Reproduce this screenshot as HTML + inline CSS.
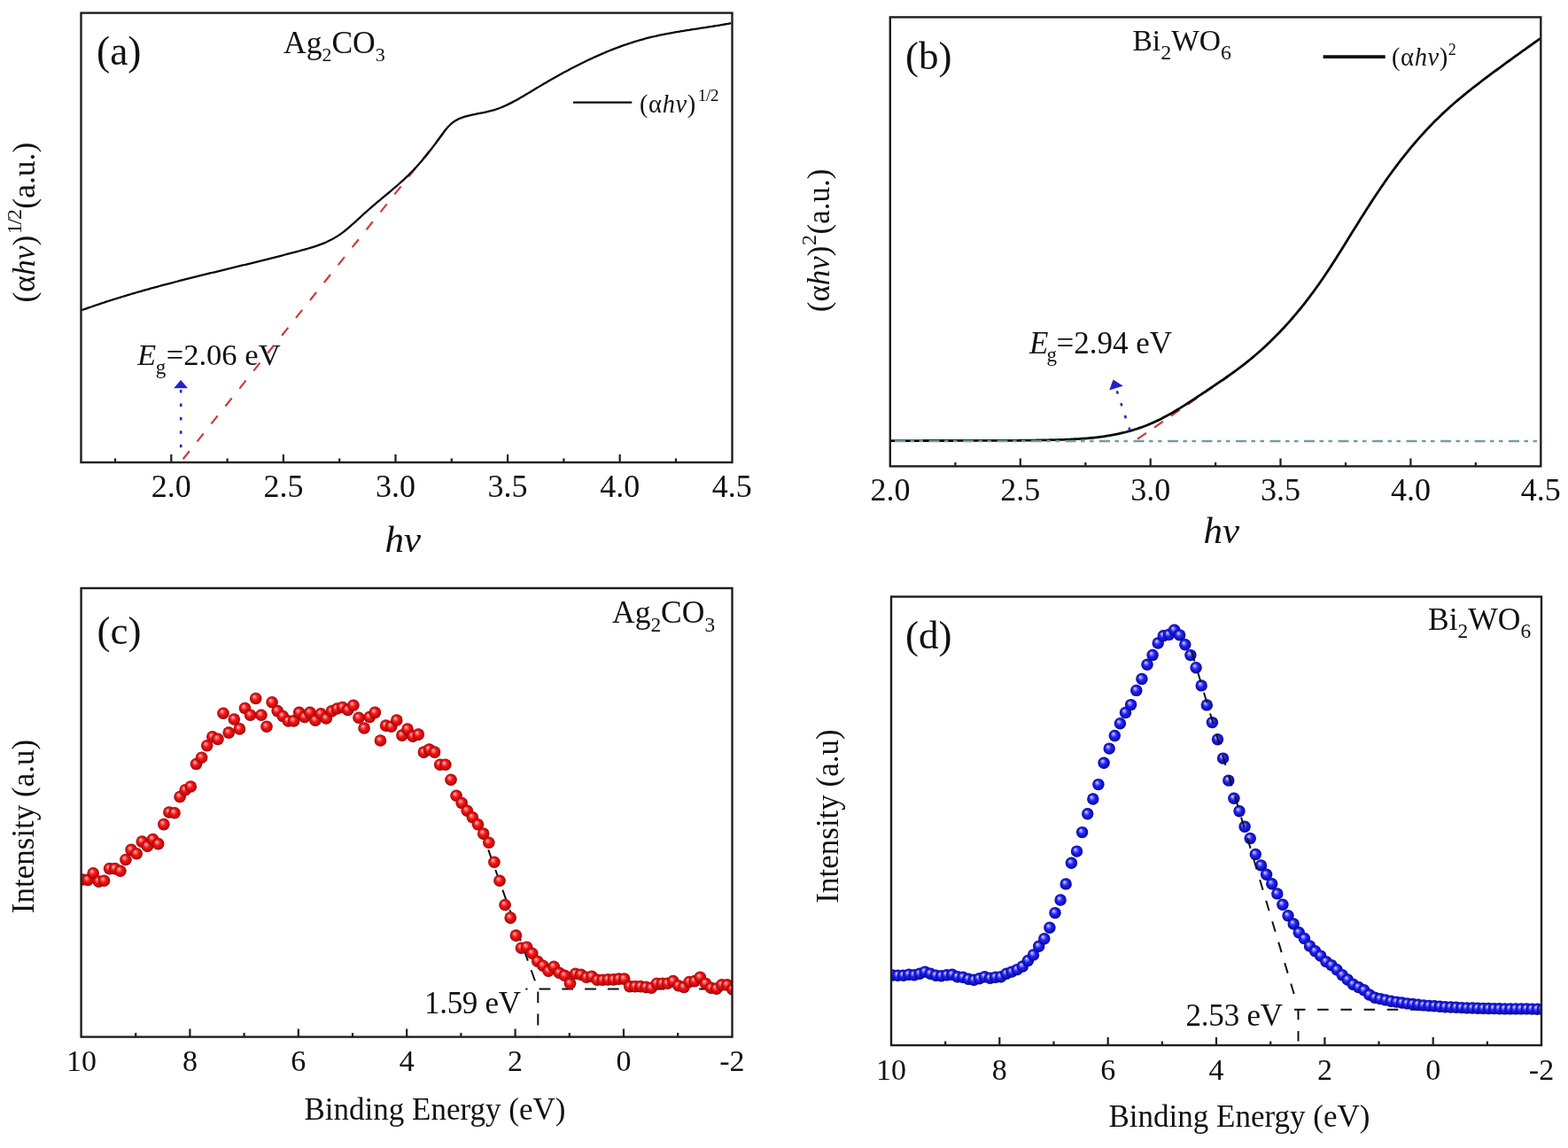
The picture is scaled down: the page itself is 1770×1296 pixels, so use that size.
<!DOCTYPE html>
<html><head><meta charset="utf-8"><title>Figure</title>
<style>html,body{margin:0;padding:0;background:#fff;} svg{display:block;}</style></head>
<body>
<svg width="1770" height="1296" viewBox="0 0 1770 1296">
<defs>
<radialGradient id="gr" cx="0.5" cy="0.5" r="0.5" fx="0.36" fy="0.32">
<stop offset="0" stop-color="#ffd4d4"/>
<stop offset="0.2" stop-color="#ff7474"/>
<stop offset="0.5" stop-color="#ee1414"/>
<stop offset="0.78" stop-color="#d20a0a"/>
<stop offset="0.92" stop-color="#a80810"/>
<stop offset="1" stop-color="#780008"/>
</radialGradient>
<radialGradient id="gb" cx="0.5" cy="0.5" r="0.5" fx="0.36" fy="0.32">
<stop offset="0" stop-color="#e6e6ff"/>
<stop offset="0.2" stop-color="#8a8aff"/>
<stop offset="0.5" stop-color="#2222ee"/>
<stop offset="0.78" stop-color="#1212d0"/>
<stop offset="0.92" stop-color="#0a0aa0"/>
<stop offset="1" stop-color="#000070"/>
</radialGradient>
<clipPath id="cc"><rect x="92" y="664" width="734.5" height="506.5"/></clipPath>
<clipPath id="cd"><rect x="1006" y="673.6" width="734" height="506.4"/></clipPath>
</defs>
<rect x="0" y="0" width="1770" height="1296" fill="#ffffff"/>
<line x1="204.5" y1="521" x2="502" y2="148.6" stroke="#cc3a3a" stroke-width="2.2" stroke-dasharray="11.5 14" stroke-dashoffset="-3.5"/>
<path d="M92.0,350.26 L94.0,349.54 L96.0,348.83 L98.0,348.12 L100.0,347.42 L102.0,346.72 L104.0,346.02 L106.0,345.34 L108.0,344.66 L110.0,343.98 L112.0,343.31 L114.0,342.64 L116.0,341.98 L118.0,341.32 L120.0,340.67 L122.0,340.02 L124.0,339.38 L126.0,338.74 L128.0,338.11 L130.0,337.48 L132.0,336.85 L134.0,336.23 L136.0,335.62 L138.0,335.00 L140.0,334.40 L142.0,333.79 L144.0,333.19 L146.0,332.60 L148.0,332.00 L150.0,331.42 L152.0,330.83 L154.0,330.25 L156.0,329.67 L158.0,329.10 L160.0,328.53 L162.0,327.96 L164.0,327.40 L166.0,326.84 L168.0,326.28 L170.0,325.73 L172.0,325.17 L174.0,324.63 L176.0,324.08 L178.0,323.54 L180.0,323.00 L182.0,322.46 L184.0,321.93 L186.0,321.40 L188.0,320.87 L190.0,320.34 L192.0,319.81 L194.0,319.29 L196.0,318.77 L198.0,318.25 L200.0,317.74 L202.0,317.22 L204.0,316.71 L206.0,316.20 L208.0,315.69 L210.0,315.19 L212.0,314.68 L214.0,314.18 L216.0,313.68 L218.0,313.18 L220.0,312.68 L222.0,312.18 L224.0,311.69 L226.0,311.19 L228.0,310.70 L230.0,310.20 L232.0,309.71 L234.0,309.22 L236.0,308.73 L238.0,308.24 L240.0,307.75 L242.0,307.26 L244.0,306.78 L246.0,306.29 L248.0,305.80 L250.0,305.32 L252.0,304.83 L254.0,304.35 L256.0,303.86 L258.0,303.38 L260.0,302.89 L262.0,302.40 L264.0,301.92 L266.0,301.43 L268.0,300.95 L270.0,300.46 L272.0,299.98 L274.0,299.49 L276.0,299.00 L278.0,298.51 L280.0,298.02 L282.0,297.54 L284.0,297.04 L286.0,296.55 L288.0,296.06 L290.0,295.57 L292.0,295.07 L294.0,294.58 L296.0,294.08 L298.0,293.59 L300.0,293.09 L302.0,292.59 L304.0,292.08 L306.0,291.58 L308.0,291.08 L310.0,290.57 L312.0,290.06 L314.0,289.55 L316.0,289.04 L318.0,288.53 L320.0,288.01 L322.0,287.49 L324.0,286.97 L326.0,286.45 L328.0,285.92 L330.0,285.40 L332.0,284.87 L334.0,284.34 L336.0,283.80 L338.0,283.26 L340.0,282.72 L342.0,282.18 L344.0,281.63 L346.0,281.08 L348.0,280.51 L350.0,279.93 L352.0,279.33 L354.0,278.71 L356.0,278.07 L358.0,277.39 L360.0,276.69 L362.0,275.94 L364.0,275.16 L366.0,274.34 L368.0,273.48 L370.0,272.56 L372.0,271.59 L374.0,270.57 L376.0,269.49 L378.0,268.34 L380.0,267.13 L382.0,265.85 L384.0,264.50 L386.0,263.07 L388.0,261.57 L390.0,260.00 L392.0,258.36 L394.0,256.67 L396.0,254.94 L398.0,253.16 L400.0,251.36 L402.0,249.53 L404.0,247.69 L406.0,245.84 L408.0,244.00 L410.0,242.16 L412.0,240.33 L414.0,238.53 L416.0,236.76 L418.0,235.01 L420.0,233.29 L422.0,231.58 L424.0,229.89 L426.0,228.21 L428.0,226.55 L430.0,224.89 L432.0,223.23 L434.0,221.57 L436.0,219.91 L438.0,218.25 L440.0,216.58 L442.0,214.90 L444.0,213.20 L446.0,211.48 L448.0,209.75 L450.0,207.99 L452.0,206.21 L454.0,204.39 L456.0,202.55 L458.0,200.67 L460.0,198.75 L462.0,196.79 L464.0,194.78 L466.0,192.73 L468.0,190.62 L470.0,188.47 L472.0,186.26 L474.0,184.00 L476.0,181.68 L478.0,179.32 L480.0,176.91 L482.0,174.45 L484.0,171.94 L486.0,169.39 L488.0,166.80 L490.0,164.16 L492.0,161.49 L494.0,158.77 L496.0,156.02 L498.0,153.24 L500.0,150.47 L502.0,147.78 L504.0,145.27 L506.0,142.99 L508.0,140.97 L510.0,139.20 L512.0,137.66 L514.0,136.32 L516.0,135.16 L518.0,134.16 L520.0,133.31 L522.0,132.56 L524.0,131.92 L526.0,131.35 L528.0,130.83 L530.0,130.35 L532.0,129.90 L534.0,129.46 L536.0,129.04 L538.0,128.64 L540.0,128.24 L542.0,127.83 L544.0,127.43 L546.0,127.01 L548.0,126.58 L550.0,126.13 L552.0,125.66 L554.0,125.15 L556.0,124.61 L558.0,124.03 L560.0,123.40 L562.0,122.72 L564.0,121.99 L566.0,121.21 L568.0,120.38 L570.0,119.51 L572.0,118.60 L574.0,117.64 L576.0,116.65 L578.0,115.63 L580.0,114.58 L582.0,113.49 L584.0,112.39 L586.0,111.26 L588.0,110.11 L590.0,108.94 L592.0,107.76 L594.0,106.57 L596.0,105.36 L598.0,104.16 L600.0,102.94 L602.0,101.73 L604.0,100.52 L606.0,99.32 L608.0,98.12 L610.0,96.93 L612.0,95.74 L614.0,94.56 L616.0,93.39 L618.0,92.23 L620.0,91.07 L622.0,89.92 L624.0,88.78 L626.0,87.65 L628.0,86.53 L630.0,85.41 L632.0,84.30 L634.0,83.20 L636.0,82.11 L638.0,81.03 L640.0,79.96 L642.0,78.89 L644.0,77.84 L646.0,76.79 L648.0,75.75 L650.0,74.73 L652.0,73.71 L654.0,72.71 L656.0,71.71 L658.0,70.72 L660.0,69.75 L662.0,68.78 L664.0,67.83 L666.0,66.88 L668.0,65.95 L670.0,65.03 L672.0,64.11 L674.0,63.21 L676.0,62.33 L678.0,61.45 L680.0,60.59 L682.0,59.73 L684.0,58.89 L686.0,58.06 L688.0,57.25 L690.0,56.44 L692.0,55.65 L694.0,54.87 L696.0,54.11 L698.0,53.36 L700.0,52.62 L702.0,51.89 L704.0,51.18 L706.0,50.48 L708.0,49.79 L710.0,49.12 L712.0,48.47 L714.0,47.82 L716.0,47.20 L718.0,46.58 L720.0,45.98 L722.0,45.40 L724.0,44.83 L726.0,44.27 L728.0,43.73 L730.0,43.21 L732.0,42.70 L734.0,42.20 L736.0,41.72 L738.0,41.25 L740.0,40.79 L742.0,40.35 L744.0,39.91 L746.0,39.49 L748.0,39.08 L750.0,38.67 L752.0,38.28 L754.0,37.90 L756.0,37.52 L758.0,37.15 L760.0,36.79 L762.0,36.44 L764.0,36.09 L766.0,35.76 L768.0,35.42 L770.0,35.09 L772.0,34.77 L774.0,34.45 L776.0,34.13 L778.0,33.82 L780.0,33.51 L782.0,33.20 L784.0,32.90 L786.0,32.59 L788.0,32.29 L790.0,31.98 L792.0,31.68 L794.0,31.38 L796.0,31.07 L798.0,30.76 L800.0,30.45 L802.0,30.14 L804.0,29.83 L806.0,29.51 L808.0,29.19 L810.0,28.86 L812.0,28.53 L814.0,28.19 L816.0,27.85 L818.0,27.50 L820.0,27.15 L822.0,26.78 L824.0,26.41 L825.5,26.13" fill="none" stroke="#0a0a0a" stroke-width="2.3"/>
<line x1="204.2" y1="505.2" x2="204.2" y2="439" stroke="#2a2ab4" stroke-width="2.6" stroke-dasharray="3.5 11.9"/>
<polygon points="196.2,438.3 212,438.3 204.1,429" fill="#2222cc"/>
<rect x="91.5" y="14.6" width="735.0" height="507.4" fill="none" stroke="#1e1e1e" stroke-width="2.4"/>
<path d="M193.3,522 V513 M319.9,522 V513 M446.5,522 V513 M573.1,522 V513 M699.7,522 V513 M130.0,522 V517.5 M256.6,522 V517.5 M383.2,522 V517.5 M509.8,522 V517.5 M636.4,522 V517.5 M763.0,522 V517.5 " stroke="#1e1e1e" stroke-width="2.2" fill="none"/>
<text x="193.3" y="561" font-size="36" text-anchor="middle" font-family="'Liberation Serif', 'Times New Roman', serif" fill="#111" >2.0</text>
<text x="319.9" y="561" font-size="36" text-anchor="middle" font-family="'Liberation Serif', 'Times New Roman', serif" fill="#111" >2.5</text>
<text x="446.5" y="561" font-size="36" text-anchor="middle" font-family="'Liberation Serif', 'Times New Roman', serif" fill="#111" >3.0</text>
<text x="573.1" y="561" font-size="36" text-anchor="middle" font-family="'Liberation Serif', 'Times New Roman', serif" fill="#111" >3.5</text>
<text x="699.7" y="561" font-size="36" text-anchor="middle" font-family="'Liberation Serif', 'Times New Roman', serif" fill="#111" >4.0</text>
<text x="826.3" y="561" font-size="36" text-anchor="middle" font-family="'Liberation Serif', 'Times New Roman', serif" fill="#111" >4.5</text>
<text x="434.5" y="623" font-size="43" text-anchor="start" font-family="'Liberation Serif', 'Times New Roman', serif" fill="#111" ><tspan font-style="italic">hν</tspan></text>
<text x="109" y="72.6" font-size="45.5" text-anchor="start" font-family="'Liberation Serif', 'Times New Roman', serif" fill="#111" >(a)</text>
<text x="320" y="59.8" font-size="35.5" text-anchor="start" font-family="'Liberation Serif', 'Times New Roman', serif" fill="#111" >Ag<tspan font-size="22" dy="9.5">2</tspan><tspan dy="-9.5">CO</tspan><tspan font-size="22" dy="9.5">3</tspan></text>
<line x1="647" y1="115.7" x2="713.3" y2="115.7" stroke="#0a0a0a" stroke-width="2.3"/>
<text x="722" y="127.2" font-size="28.5" text-anchor="start" font-family="'Liberation Serif', 'Times New Roman', serif" fill="#111" letter-spacing="0.6">(α<tspan font-style="italic">hν</tspan>)<tspan font-size="19.5" dx="2" dy="-13.5" letter-spacing="-0.6">1/2</tspan></text>
<text x="155" y="412" font-size="34.6" text-anchor="start" font-family="'Liberation Serif', 'Times New Roman', serif" fill="#111" ><tspan font-style="italic">E</tspan><tspan font-size="23" dy="10.2" dx="-0.5">g</tspan><tspan dy="-10.2" dx="0.5">=2.06 eV</tspan></text>
<text transform="translate(39.1,341.5) rotate(-90)" font-size="35.5" text-anchor="start" font-family="'Liberation Serif', 'Times New Roman', serif" fill="#111">(α<tspan font-style="italic">hν</tspan>)<tspan font-size="24" dy="-15.3" dx="1.5" letter-spacing="-1.2">1/2</tspan><tspan dy="15.3" dx="1.5">(a.u.)</tspan></text>
<line x1="1284" y1="495.6" x2="1386" y2="425.4" stroke="#cc3a3a" stroke-width="2.2" stroke-dasharray="12 11"/>
<path d="M1005.0,497.62 L1007.0,497.62 L1009.0,497.61 L1011.0,497.60 L1013.0,497.59 L1015.0,497.59 L1017.0,497.58 L1019.0,497.58 L1021.0,497.57 L1023.0,497.56 L1025.0,497.56 L1027.0,497.55 L1029.0,497.55 L1031.0,497.54 L1033.0,497.54 L1035.0,497.54 L1037.0,497.53 L1039.0,497.53 L1041.0,497.53 L1043.0,497.52 L1045.0,497.52 L1047.0,497.52 L1049.0,497.51 L1051.0,497.51 L1053.0,497.51 L1055.0,497.50 L1057.0,497.50 L1059.0,497.50 L1061.0,497.50 L1063.0,497.49 L1065.0,497.49 L1067.0,497.49 L1069.0,497.49 L1071.0,497.49 L1073.0,497.48 L1075.0,497.48 L1077.0,497.48 L1079.0,497.48 L1081.0,497.47 L1083.0,497.47 L1085.0,497.47 L1087.0,497.47 L1089.0,497.47 L1091.0,497.46 L1093.0,497.46 L1095.0,497.46 L1097.0,497.45 L1099.0,497.45 L1101.0,497.45 L1103.0,497.45 L1105.0,497.44 L1107.0,497.44 L1109.0,497.43 L1111.0,497.43 L1113.0,497.43 L1115.0,497.42 L1117.0,497.42 L1119.0,497.41 L1121.0,497.41 L1123.0,497.40 L1125.0,497.40 L1127.0,497.39 L1129.0,497.38 L1131.0,497.38 L1133.0,497.37 L1135.0,497.36 L1137.0,497.35 L1139.0,497.34 L1141.0,497.33 L1143.0,497.32 L1145.0,497.31 L1147.0,497.29 L1149.0,497.28 L1151.0,497.26 L1153.0,497.24 L1155.0,497.22 L1157.0,497.20 L1159.0,497.18 L1161.0,497.16 L1163.0,497.13 L1165.0,497.11 L1167.0,497.08 L1169.0,497.05 L1171.0,497.02 L1173.0,496.99 L1175.0,496.95 L1177.0,496.91 L1179.0,496.87 L1181.0,496.83 L1183.0,496.79 L1185.0,496.74 L1187.0,496.69 L1189.0,496.64 L1191.0,496.59 L1193.0,496.53 L1195.0,496.47 L1197.0,496.41 L1199.0,496.35 L1201.0,496.28 L1203.0,496.20 L1205.0,496.13 L1207.0,496.04 L1209.0,495.95 L1211.0,495.86 L1213.0,495.76 L1215.0,495.65 L1217.0,495.53 L1219.0,495.40 L1221.0,495.27 L1223.0,495.13 L1225.0,494.98 L1227.0,494.81 L1229.0,494.64 L1231.0,494.46 L1233.0,494.26 L1235.0,494.06 L1237.0,493.84 L1239.0,493.60 L1241.0,493.36 L1243.0,493.10 L1245.0,492.82 L1247.0,492.54 L1249.0,492.23 L1251.0,491.91 L1253.0,491.58 L1255.0,491.22 L1257.0,490.85 L1259.0,490.47 L1261.0,490.06 L1263.0,489.64 L1265.0,489.19 L1267.0,488.73 L1269.0,488.25 L1271.0,487.74 L1273.0,487.22 L1275.0,486.67 L1277.0,486.10 L1279.0,485.51 L1281.0,484.90 L1283.0,484.26 L1285.0,483.60 L1287.0,482.92 L1289.0,482.21 L1291.0,481.48 L1293.0,480.71 L1295.0,479.93 L1297.0,479.11 L1299.0,478.27 L1301.0,477.41 L1303.0,476.51 L1305.0,475.58 L1307.0,474.63 L1309.0,473.65 L1311.0,472.64 L1313.0,471.61 L1315.0,470.55 L1317.0,469.47 L1319.0,468.37 L1321.0,467.24 L1323.0,466.10 L1325.0,464.93 L1327.0,463.75 L1329.0,462.55 L1331.0,461.33 L1333.0,460.10 L1335.0,458.86 L1337.0,457.60 L1339.0,456.32 L1341.0,455.04 L1343.0,453.75 L1345.0,452.44 L1347.0,451.13 L1349.0,449.81 L1351.0,448.49 L1353.0,447.16 L1355.0,445.82 L1357.0,444.48 L1359.0,443.14 L1361.0,441.80 L1363.0,440.46 L1365.0,439.12 L1367.0,437.77 L1369.0,436.43 L1371.0,435.09 L1373.0,433.74 L1375.0,432.38 L1377.0,431.02 L1379.0,429.65 L1381.0,428.28 L1383.0,426.90 L1385.0,425.50 L1387.0,424.10 L1389.0,422.68 L1391.0,421.25 L1393.0,419.80 L1395.0,418.34 L1397.0,416.87 L1399.0,415.37 L1401.0,413.86 L1403.0,412.32 L1405.0,410.77 L1407.0,409.19 L1409.0,407.59 L1411.0,405.97 L1413.0,404.32 L1415.0,402.65 L1417.0,400.96 L1419.0,399.24 L1421.0,397.49 L1423.0,395.72 L1425.0,393.92 L1427.0,392.10 L1429.0,390.25 L1431.0,388.37 L1433.0,386.46 L1435.0,384.53 L1437.0,382.57 L1439.0,380.58 L1441.0,378.56 L1443.0,376.51 L1445.0,374.43 L1447.0,372.33 L1449.0,370.19 L1451.0,368.02 L1453.0,365.82 L1455.0,363.58 L1457.0,361.32 L1459.0,359.02 L1461.0,356.69 L1463.0,354.33 L1465.0,351.93 L1467.0,349.50 L1469.0,347.04 L1471.0,344.54 L1473.0,342.01 L1475.0,339.44 L1477.0,336.83 L1479.0,334.19 L1481.0,331.52 L1483.0,328.80 L1485.0,326.05 L1487.0,323.26 L1489.0,320.44 L1491.0,317.57 L1493.0,314.67 L1495.0,311.73 L1497.0,308.75 L1499.0,305.73 L1501.0,302.69 L1503.0,299.62 L1505.0,296.51 L1507.0,293.39 L1509.0,290.24 L1511.0,287.08 L1513.0,283.89 L1515.0,280.70 L1517.0,277.49 L1519.0,274.27 L1521.0,271.05 L1523.0,267.82 L1525.0,264.59 L1527.0,261.36 L1529.0,258.13 L1531.0,254.91 L1533.0,251.70 L1535.0,248.50 L1537.0,245.31 L1539.0,242.14 L1541.0,238.98 L1543.0,235.84 L1545.0,232.72 L1547.0,229.62 L1549.0,226.54 L1551.0,223.49 L1553.0,220.46 L1555.0,217.46 L1557.0,214.48 L1559.0,211.53 L1561.0,208.61 L1563.0,205.72 L1565.0,202.86 L1567.0,200.04 L1569.0,197.25 L1571.0,194.49 L1573.0,191.76 L1575.0,189.07 L1577.0,186.40 L1579.0,183.77 L1581.0,181.17 L1583.0,178.60 L1585.0,176.07 L1587.0,173.56 L1589.0,171.09 L1591.0,168.64 L1593.0,166.23 L1595.0,163.85 L1597.0,161.49 L1599.0,159.17 L1601.0,156.88 L1603.0,154.62 L1605.0,152.39 L1607.0,150.19 L1609.0,148.02 L1611.0,145.87 L1613.0,143.76 L1615.0,141.68 L1617.0,139.63 L1619.0,137.60 L1621.0,135.61 L1623.0,133.64 L1625.0,131.70 L1627.0,129.78 L1629.0,127.89 L1631.0,126.03 L1633.0,124.19 L1635.0,122.37 L1637.0,120.57 L1639.0,118.80 L1641.0,117.05 L1643.0,115.31 L1645.0,113.60 L1647.0,111.91 L1649.0,110.23 L1651.0,108.57 L1653.0,106.92 L1655.0,105.30 L1657.0,103.68 L1659.0,102.08 L1661.0,100.50 L1663.0,98.92 L1665.0,97.36 L1667.0,95.81 L1669.0,94.27 L1671.0,92.74 L1673.0,91.21 L1675.0,89.70 L1677.0,88.19 L1679.0,86.69 L1681.0,85.19 L1683.0,83.70 L1685.0,82.22 L1687.0,80.73 L1689.0,79.25 L1691.0,77.78 L1693.0,76.30 L1695.0,74.84 L1697.0,73.37 L1699.0,71.91 L1701.0,70.45 L1703.0,69.00 L1705.0,67.54 L1707.0,66.09 L1709.0,64.65 L1711.0,63.21 L1713.0,61.77 L1715.0,60.33 L1717.0,58.89 L1719.0,57.46 L1721.0,56.03 L1723.0,54.61 L1725.0,53.18 L1727.0,51.76 L1729.0,50.34 L1731.0,48.93 L1733.0,47.51 L1735.0,46.10 L1737.0,44.69 L1738.5,43.64" fill="none" stroke="#0a0a0a" stroke-width="2.8"/>
<line x1="1006" y1="498" x2="1738" y2="498" stroke="#6f9ea3" stroke-width="2.4" stroke-dasharray="12 5.5 4.5 5.5 4.5 6.5" stroke-dashoffset="-4"/>
<line x1="1275.5" y1="486" x2="1260" y2="439" stroke="#2a2ab4" stroke-width="2.6" stroke-dasharray="3.5 11"/>
<polygon points="1252.2,440.4 1267.8,435.8 1256.6,428.6" fill="#2222cc"/>
<rect x="1004.8" y="19.4" width="734.5" height="507.0" fill="none" stroke="#1e1e1e" stroke-width="2.4"/>
<path d="M1151.8,526.4 V517.4 M1298.7,526.4 V517.4 M1445.5,526.4 V517.4 M1592.4,526.4 V517.4 M1078.4,526.4 V521.9 M1225.3,526.4 V521.9 M1372.1,526.4 V521.9 M1519.0,526.4 V521.9 M1665.8,526.4 V521.9 " stroke="#1e1e1e" stroke-width="2.2" fill="none"/>
<text x="1005.0" y="565" font-size="36" text-anchor="middle" font-family="'Liberation Serif', 'Times New Roman', serif" fill="#111" >2.0</text>
<text x="1151.8" y="565" font-size="36" text-anchor="middle" font-family="'Liberation Serif', 'Times New Roman', serif" fill="#111" >2.5</text>
<text x="1298.7" y="565" font-size="36" text-anchor="middle" font-family="'Liberation Serif', 'Times New Roman', serif" fill="#111" >3.0</text>
<text x="1445.5" y="565" font-size="36" text-anchor="middle" font-family="'Liberation Serif', 'Times New Roman', serif" fill="#111" >3.5</text>
<text x="1592.4" y="565" font-size="36" text-anchor="middle" font-family="'Liberation Serif', 'Times New Roman', serif" fill="#111" >4.0</text>
<text x="1739.2" y="565" font-size="36" text-anchor="middle" font-family="'Liberation Serif', 'Times New Roman', serif" fill="#111" >4.5</text>
<text x="1358.5" y="612.5" font-size="43" text-anchor="start" font-family="'Liberation Serif', 'Times New Roman', serif" fill="#111" ><tspan font-style="italic">hν</tspan></text>
<text x="1022" y="78.3" font-size="45" text-anchor="start" font-family="'Liberation Serif', 'Times New Roman', serif" fill="#111" >(b)</text>
<text x="1278.5" y="56.6" font-size="33.5" text-anchor="start" font-family="'Liberation Serif', 'Times New Roman', serif" fill="#111" >Bi<tspan font-size="24" dy="10">2</tspan><tspan dy="-10">WO</tspan><tspan font-size="24" dy="10">6</tspan></text>
<line x1="1493.6" y1="64.1" x2="1563.7" y2="64.1" stroke="#0a0a0a" stroke-width="3.6"/>
<text x="1571" y="74.2" font-size="28.5" text-anchor="start" font-family="'Liberation Serif', 'Times New Roman', serif" fill="#111" letter-spacing="0.6">(α<tspan font-style="italic">hν</tspan>)<tspan font-size="18" dy="-12.5">2</tspan></text>
<text x="1162" y="398.9" font-size="35" text-anchor="start" font-family="'Liberation Serif', 'Times New Roman', serif" fill="#111" ><tspan font-style="italic">E</tspan><tspan font-size="23" dy="9.5" dx="-2">g</tspan><tspan dy="-9.5" dx="-0.5">=2.94 eV</tspan></text>
<text transform="translate(936.3,352.2) rotate(-90)" font-size="35" text-anchor="start" font-family="'Liberation Serif', 'Times New Roman', serif" fill="#111">(α<tspan font-style="italic">hν</tspan>)<tspan font-size="24" dy="-15" dx="0.5">2</tspan><tspan dy="15" dx="0.5">(a.u.)</tspan></text>
<path d="M539,925 L604,1107.5" stroke="#111" stroke-width="2" fill="none" stroke-dasharray="13 11" stroke-dashoffset="-12.5"/>
<path d="M593.3,1116.4 H826" stroke="#111" stroke-width="2" fill="none" stroke-dasharray="12.8 13" stroke-dashoffset="10.6"/>
<path d="M607.3,1116.4 V1170" stroke="#111" stroke-width="2" fill="none" stroke-dasharray="12.8 12.4" stroke-dashoffset="-3"/>
<g clip-path="url(#cc)">
<circle cx="93.0" cy="993.0" r="6.8" fill="url(#gr)"/>
<circle cx="99.1" cy="993.4" r="6.8" fill="url(#gr)"/>
<circle cx="105.2" cy="985.7" r="6.8" fill="url(#gr)"/>
<circle cx="111.4" cy="995.1" r="6.8" fill="url(#gr)"/>
<circle cx="117.5" cy="994.2" r="6.8" fill="url(#gr)"/>
<circle cx="123.6" cy="980.6" r="6.8" fill="url(#gr)"/>
<circle cx="129.7" cy="980.6" r="6.8" fill="url(#gr)"/>
<circle cx="135.8" cy="983.2" r="6.8" fill="url(#gr)"/>
<circle cx="141.9" cy="970.5" r="6.8" fill="url(#gr)"/>
<circle cx="148.1" cy="959.4" r="6.8" fill="url(#gr)"/>
<circle cx="154.2" cy="963.7" r="6.8" fill="url(#gr)"/>
<circle cx="160.3" cy="950.1" r="6.8" fill="url(#gr)"/>
<circle cx="166.4" cy="955.2" r="6.8" fill="url(#gr)"/>
<circle cx="172.5" cy="947.5" r="6.8" fill="url(#gr)"/>
<circle cx="178.6" cy="952.6" r="6.8" fill="url(#gr)"/>
<circle cx="184.8" cy="930.6" r="6.8" fill="url(#gr)"/>
<circle cx="190.9" cy="917.0" r="6.8" fill="url(#gr)"/>
<circle cx="197.0" cy="917.8" r="6.8" fill="url(#gr)"/>
<circle cx="203.1" cy="899.5" r="6.8" fill="url(#gr)"/>
<circle cx="209.2" cy="891.7" r="6.8" fill="url(#gr)"/>
<circle cx="215.3" cy="888.0" r="6.8" fill="url(#gr)"/>
<circle cx="221.5" cy="862.5" r="6.8" fill="url(#gr)"/>
<circle cx="227.6" cy="855.2" r="6.8" fill="url(#gr)"/>
<circle cx="233.7" cy="841.7" r="6.8" fill="url(#gr)"/>
<circle cx="239.8" cy="831.8" r="6.8" fill="url(#gr)"/>
<circle cx="245.9" cy="834.4" r="6.8" fill="url(#gr)"/>
<circle cx="252.0" cy="805.2" r="6.8" fill="url(#gr)"/>
<circle cx="258.2" cy="827.1" r="6.8" fill="url(#gr)"/>
<circle cx="264.3" cy="812.0" r="6.8" fill="url(#gr)"/>
<circle cx="270.4" cy="822.9" r="6.8" fill="url(#gr)"/>
<circle cx="276.5" cy="799.5" r="6.8" fill="url(#gr)"/>
<circle cx="282.6" cy="807.3" r="6.8" fill="url(#gr)"/>
<circle cx="288.7" cy="788.5" r="6.8" fill="url(#gr)"/>
<circle cx="294.9" cy="807.3" r="6.8" fill="url(#gr)"/>
<circle cx="301.0" cy="820.3" r="6.8" fill="url(#gr)"/>
<circle cx="307.1" cy="792.7" r="6.8" fill="url(#gr)"/>
<circle cx="313.2" cy="802.6" r="6.8" fill="url(#gr)"/>
<circle cx="319.3" cy="808.5" r="6.8" fill="url(#gr)"/>
<circle cx="325.4" cy="814.0" r="6.8" fill="url(#gr)"/>
<circle cx="331.6" cy="813.9" r="6.8" fill="url(#gr)"/>
<circle cx="337.7" cy="804.4" r="6.8" fill="url(#gr)"/>
<circle cx="343.8" cy="809.5" r="6.8" fill="url(#gr)"/>
<circle cx="349.9" cy="804.4" r="6.8" fill="url(#gr)"/>
<circle cx="356.0" cy="813.2" r="6.8" fill="url(#gr)"/>
<circle cx="362.1" cy="805.8" r="6.8" fill="url(#gr)"/>
<circle cx="368.3" cy="811.0" r="6.8" fill="url(#gr)"/>
<circle cx="374.4" cy="802.9" r="6.8" fill="url(#gr)"/>
<circle cx="380.5" cy="800.0" r="6.8" fill="url(#gr)"/>
<circle cx="386.6" cy="798.5" r="6.8" fill="url(#gr)"/>
<circle cx="392.7" cy="801.4" r="6.8" fill="url(#gr)"/>
<circle cx="398.9" cy="796.3" r="6.8" fill="url(#gr)"/>
<circle cx="405.0" cy="810.3" r="6.8" fill="url(#gr)"/>
<circle cx="411.1" cy="822.0" r="6.8" fill="url(#gr)"/>
<circle cx="417.2" cy="809.5" r="6.8" fill="url(#gr)"/>
<circle cx="423.3" cy="804.4" r="6.8" fill="url(#gr)"/>
<circle cx="429.4" cy="836.0" r="6.8" fill="url(#gr)"/>
<circle cx="435.6" cy="819.1" r="6.8" fill="url(#gr)"/>
<circle cx="441.7" cy="820.3" r="6.8" fill="url(#gr)"/>
<circle cx="447.8" cy="813.0" r="6.8" fill="url(#gr)"/>
<circle cx="453.9" cy="830.1" r="6.8" fill="url(#gr)"/>
<circle cx="460.0" cy="823.1" r="6.8" fill="url(#gr)"/>
<circle cx="466.1" cy="831.1" r="6.8" fill="url(#gr)"/>
<circle cx="472.3" cy="829.1" r="6.8" fill="url(#gr)"/>
<circle cx="478.4" cy="849.1" r="6.8" fill="url(#gr)"/>
<circle cx="484.5" cy="846.1" r="6.8" fill="url(#gr)"/>
<circle cx="490.6" cy="849.1" r="6.8" fill="url(#gr)"/>
<circle cx="496.7" cy="863.2" r="6.8" fill="url(#gr)"/>
<circle cx="502.8" cy="863.2" r="6.8" fill="url(#gr)"/>
<circle cx="509.0" cy="880.2" r="6.8" fill="url(#gr)"/>
<circle cx="515.1" cy="898.3" r="6.8" fill="url(#gr)"/>
<circle cx="521.2" cy="906.5" r="6.8" fill="url(#gr)"/>
<circle cx="527.3" cy="915.2" r="6.8" fill="url(#gr)"/>
<circle cx="533.4" cy="922.8" r="6.8" fill="url(#gr)"/>
<circle cx="539.5" cy="930.8" r="6.8" fill="url(#gr)"/>
<circle cx="545.7" cy="941.1" r="6.8" fill="url(#gr)"/>
<circle cx="551.8" cy="951.2" r="6.8" fill="url(#gr)"/>
<circle cx="557.9" cy="973.2" r="6.8" fill="url(#gr)"/>
<circle cx="564.0" cy="994.3" r="6.8" fill="url(#gr)"/>
<circle cx="570.1" cy="1021.5" r="6.8" fill="url(#gr)"/>
<circle cx="576.2" cy="1036.1" r="6.8" fill="url(#gr)"/>
<circle cx="582.4" cy="1056.1" r="6.8" fill="url(#gr)"/>
<circle cx="588.5" cy="1070.2" r="6.8" fill="url(#gr)"/>
<circle cx="594.6" cy="1069.2" r="6.8" fill="url(#gr)"/>
<circle cx="600.7" cy="1076.2" r="6.8" fill="url(#gr)"/>
<circle cx="606.8" cy="1085.2" r="6.8" fill="url(#gr)"/>
<circle cx="612.9" cy="1090.2" r="6.8" fill="url(#gr)"/>
<circle cx="619.1" cy="1096.3" r="6.8" fill="url(#gr)"/>
<circle cx="625.2" cy="1091.2" r="6.8" fill="url(#gr)"/>
<circle cx="631.3" cy="1098.3" r="6.8" fill="url(#gr)"/>
<circle cx="637.4" cy="1101.3" r="6.8" fill="url(#gr)"/>
<circle cx="643.5" cy="1110.3" r="6.8" fill="url(#gr)"/>
<circle cx="649.6" cy="1099.3" r="6.8" fill="url(#gr)"/>
<circle cx="655.8" cy="1100.3" r="6.8" fill="url(#gr)"/>
<circle cx="661.9" cy="1103.3" r="6.8" fill="url(#gr)"/>
<circle cx="668.0" cy="1102.3" r="6.8" fill="url(#gr)"/>
<circle cx="674.1" cy="1106.3" r="6.8" fill="url(#gr)"/>
<circle cx="680.2" cy="1106.3" r="6.8" fill="url(#gr)"/>
<circle cx="686.3" cy="1105.9" r="6.8" fill="url(#gr)"/>
<circle cx="692.5" cy="1105.9" r="6.8" fill="url(#gr)"/>
<circle cx="698.6" cy="1105.1" r="6.8" fill="url(#gr)"/>
<circle cx="704.7" cy="1105.1" r="6.8" fill="url(#gr)"/>
<circle cx="710.8" cy="1113.6" r="6.8" fill="url(#gr)"/>
<circle cx="716.9" cy="1113.6" r="6.8" fill="url(#gr)"/>
<circle cx="723.1" cy="1113.6" r="6.8" fill="url(#gr)"/>
<circle cx="729.2" cy="1114.4" r="6.8" fill="url(#gr)"/>
<circle cx="735.3" cy="1115.3" r="6.8" fill="url(#gr)"/>
<circle cx="741.4" cy="1110.2" r="6.8" fill="url(#gr)"/>
<circle cx="747.5" cy="1110.2" r="6.8" fill="url(#gr)"/>
<circle cx="753.6" cy="1110.2" r="6.8" fill="url(#gr)"/>
<circle cx="759.8" cy="1107.6" r="6.8" fill="url(#gr)"/>
<circle cx="765.9" cy="1112.7" r="6.8" fill="url(#gr)"/>
<circle cx="772.0" cy="1114.4" r="6.8" fill="url(#gr)"/>
<circle cx="778.1" cy="1108.5" r="6.8" fill="url(#gr)"/>
<circle cx="784.2" cy="1107.6" r="6.8" fill="url(#gr)"/>
<circle cx="790.3" cy="1103.4" r="6.8" fill="url(#gr)"/>
<circle cx="796.5" cy="1110.2" r="6.8" fill="url(#gr)"/>
<circle cx="802.6" cy="1115.3" r="6.8" fill="url(#gr)"/>
<circle cx="808.7" cy="1116.1" r="6.8" fill="url(#gr)"/>
<circle cx="814.8" cy="1111.9" r="6.8" fill="url(#gr)"/>
<circle cx="820.9" cy="1111.9" r="6.8" fill="url(#gr)"/>
<circle cx="827.0" cy="1116.9" r="6.8" fill="url(#gr)"/>
</g>
<rect x="91.6" y="664" width="734.9" height="506.5999999999999" fill="none" stroke="#1e1e1e" stroke-width="2.4"/>
<path d="M214.4,1170.6 V1161.6 M336.8,1170.6 V1161.6 M459.2,1170.6 V1161.6 M581.6,1170.6 V1161.6 M704.0,1170.6 V1161.6 M153.2,1170.6 V1166.1 M275.6,1170.6 V1166.1 M398.0,1170.6 V1166.1 M520.4,1170.6 V1166.1 M642.8,1170.6 V1166.1 M765.2,1170.6 V1166.1 " stroke="#1e1e1e" stroke-width="2.2" fill="none"/>
<text x="92.0" y="1208.7" font-size="34" text-anchor="middle" font-family="'Liberation Serif', 'Times New Roman', serif" fill="#111" >10</text>
<text x="214.4" y="1208.7" font-size="34" text-anchor="middle" font-family="'Liberation Serif', 'Times New Roman', serif" fill="#111" >8</text>
<text x="336.8" y="1208.7" font-size="34" text-anchor="middle" font-family="'Liberation Serif', 'Times New Roman', serif" fill="#111" >6</text>
<text x="459.2" y="1208.7" font-size="34" text-anchor="middle" font-family="'Liberation Serif', 'Times New Roman', serif" fill="#111" >4</text>
<text x="581.6" y="1208.7" font-size="34" text-anchor="middle" font-family="'Liberation Serif', 'Times New Roman', serif" fill="#111" >2</text>
<text x="704.0" y="1208.7" font-size="34" text-anchor="middle" font-family="'Liberation Serif', 'Times New Roman', serif" fill="#111" >0</text>
<text x="826.4" y="1208.7" font-size="34" text-anchor="middle" font-family="'Liberation Serif', 'Times New Roman', serif" fill="#111" >-2</text>
<text x="343.5" y="1263.7" font-size="35" text-anchor="start" font-family="'Liberation Serif', 'Times New Roman', serif" fill="#111" >Binding Energy (eV)</text>
<text x="109.5" y="727.1" font-size="45" text-anchor="start" font-family="'Liberation Serif', 'Times New Roman', serif" fill="#111" >(c)</text>
<text x="691" y="703" font-size="35.5" text-anchor="start" font-family="'Liberation Serif', 'Times New Roman', serif" fill="#111" >Ag<tspan font-size="23.4" dy="9.7">2</tspan><tspan dy="-9.7">CO</tspan><tspan font-size="23.4" dy="9.7">3</tspan></text>
<text x="479" y="1144.3" font-size="35" text-anchor="start" font-family="'Liberation Serif', 'Times New Roman', serif" fill="#111" letter-spacing="-0.3">1.59 eV</text>
<text transform="translate(38.1,933) rotate(-90)" font-size="35" text-anchor="middle" font-family="'Liberation Serif', 'Times New Roman', serif" fill="#111">Intensity (a.u)</text>
<path d="M1461,1139.7 H1740" stroke="#111" stroke-width="2" fill="none" stroke-dasharray="12.5 13.7"/>
<path d="M1465.5,1139.7 V1180" stroke="#111" stroke-width="2" fill="none" stroke-dasharray="11.5 12.9"/>
<g clip-path="url(#cd)">
<circle cx="1007.5" cy="1101.0" r="6.7" fill="url(#gb)"/>
<circle cx="1013.6" cy="1101.2" r="6.7" fill="url(#gb)"/>
<circle cx="1019.7" cy="1101.2" r="6.7" fill="url(#gb)"/>
<circle cx="1025.9" cy="1100.2" r="6.7" fill="url(#gb)"/>
<circle cx="1032.0" cy="1100.7" r="6.7" fill="url(#gb)"/>
<circle cx="1038.1" cy="1099.2" r="6.7" fill="url(#gb)"/>
<circle cx="1044.2" cy="1097.1" r="6.7" fill="url(#gb)"/>
<circle cx="1050.3" cy="1099.2" r="6.7" fill="url(#gb)"/>
<circle cx="1056.4" cy="1101.2" r="6.7" fill="url(#gb)"/>
<circle cx="1062.6" cy="1101.7" r="6.7" fill="url(#gb)"/>
<circle cx="1068.7" cy="1100.7" r="6.7" fill="url(#gb)"/>
<circle cx="1074.8" cy="1100.2" r="6.7" fill="url(#gb)"/>
<circle cx="1080.9" cy="1102.7" r="6.7" fill="url(#gb)"/>
<circle cx="1087.0" cy="1103.2" r="6.7" fill="url(#gb)"/>
<circle cx="1093.1" cy="1105.3" r="6.7" fill="url(#gb)"/>
<circle cx="1099.3" cy="1106.3" r="6.7" fill="url(#gb)"/>
<circle cx="1105.4" cy="1104.8" r="6.7" fill="url(#gb)"/>
<circle cx="1111.5" cy="1102.7" r="6.7" fill="url(#gb)"/>
<circle cx="1117.6" cy="1104.3" r="6.7" fill="url(#gb)"/>
<circle cx="1123.7" cy="1103.2" r="6.7" fill="url(#gb)"/>
<circle cx="1129.8" cy="1102.7" r="6.7" fill="url(#gb)"/>
<circle cx="1136.0" cy="1099.2" r="6.7" fill="url(#gb)"/>
<circle cx="1142.1" cy="1097.1" r="6.7" fill="url(#gb)"/>
<circle cx="1148.2" cy="1094.6" r="6.7" fill="url(#gb)"/>
<circle cx="1154.3" cy="1091.0" r="6.7" fill="url(#gb)"/>
<circle cx="1160.4" cy="1084.4" r="6.7" fill="url(#gb)"/>
<circle cx="1166.5" cy="1078.0" r="6.7" fill="url(#gb)"/>
<circle cx="1172.7" cy="1068.3" r="6.7" fill="url(#gb)"/>
<circle cx="1178.8" cy="1059.7" r="6.7" fill="url(#gb)"/>
<circle cx="1184.9" cy="1047.2" r="6.7" fill="url(#gb)"/>
<circle cx="1191.0" cy="1030.6" r="6.7" fill="url(#gb)"/>
<circle cx="1197.1" cy="1016.0" r="6.7" fill="url(#gb)"/>
<circle cx="1203.2" cy="997.9" r="6.7" fill="url(#gb)"/>
<circle cx="1209.4" cy="974.3" r="6.7" fill="url(#gb)"/>
<circle cx="1215.5" cy="961.1" r="6.7" fill="url(#gb)"/>
<circle cx="1221.6" cy="939.6" r="6.7" fill="url(#gb)"/>
<circle cx="1227.7" cy="918.8" r="6.7" fill="url(#gb)"/>
<circle cx="1233.8" cy="902.0" r="6.7" fill="url(#gb)"/>
<circle cx="1239.9" cy="885.6" r="6.7" fill="url(#gb)"/>
<circle cx="1246.1" cy="861.3" r="6.7" fill="url(#gb)"/>
<circle cx="1252.2" cy="845.1" r="6.7" fill="url(#gb)"/>
<circle cx="1258.3" cy="830.5" r="6.7" fill="url(#gb)"/>
<circle cx="1264.4" cy="816.7" r="6.7" fill="url(#gb)"/>
<circle cx="1270.5" cy="804.5" r="6.7" fill="url(#gb)"/>
<circle cx="1276.6" cy="795.6" r="6.7" fill="url(#gb)"/>
<circle cx="1282.8" cy="779.4" r="6.7" fill="url(#gb)"/>
<circle cx="1288.9" cy="766.5" r="6.7" fill="url(#gb)"/>
<circle cx="1295.0" cy="750.2" r="6.7" fill="url(#gb)"/>
<circle cx="1301.1" cy="739.5" r="6.7" fill="url(#gb)"/>
<circle cx="1307.2" cy="726.0" r="6.7" fill="url(#gb)"/>
<circle cx="1313.3" cy="717.8" r="6.7" fill="url(#gb)"/>
<circle cx="1319.5" cy="716.5" r="6.7" fill="url(#gb)"/>
<circle cx="1325.6" cy="711.3" r="6.7" fill="url(#gb)"/>
<circle cx="1331.7" cy="716.9" r="6.7" fill="url(#gb)"/>
<circle cx="1337.8" cy="727.8" r="6.7" fill="url(#gb)"/>
<circle cx="1343.9" cy="739.6" r="6.7" fill="url(#gb)"/>
<circle cx="1350.1" cy="753.7" r="6.7" fill="url(#gb)"/>
<circle cx="1356.2" cy="773.9" r="6.7" fill="url(#gb)"/>
<circle cx="1362.3" cy="795.9" r="6.7" fill="url(#gb)"/>
<circle cx="1368.4" cy="815.6" r="6.7" fill="url(#gb)"/>
<circle cx="1374.5" cy="834.7" r="6.7" fill="url(#gb)"/>
<circle cx="1380.6" cy="856.1" r="6.7" fill="url(#gb)"/>
<circle cx="1386.8" cy="881.1" r="6.7" fill="url(#gb)"/>
<circle cx="1392.9" cy="901.3" r="6.7" fill="url(#gb)"/>
<circle cx="1399.0" cy="915.8" r="6.7" fill="url(#gb)"/>
<circle cx="1405.1" cy="933.2" r="6.7" fill="url(#gb)"/>
<circle cx="1411.2" cy="946.4" r="6.7" fill="url(#gb)"/>
<circle cx="1417.3" cy="964.4" r="6.7" fill="url(#gb)"/>
<circle cx="1423.5" cy="976.9" r="6.7" fill="url(#gb)"/>
<circle cx="1429.6" cy="987.3" r="6.7" fill="url(#gb)"/>
<circle cx="1435.7" cy="997.7" r="6.7" fill="url(#gb)"/>
<circle cx="1441.8" cy="1008.9" r="6.7" fill="url(#gb)"/>
<circle cx="1447.9" cy="1021.3" r="6.7" fill="url(#gb)"/>
<circle cx="1454.0" cy="1033.8" r="6.7" fill="url(#gb)"/>
<circle cx="1460.2" cy="1043.0" r="6.7" fill="url(#gb)"/>
<circle cx="1466.3" cy="1052.8" r="6.7" fill="url(#gb)"/>
<circle cx="1472.4" cy="1059.4" r="6.7" fill="url(#gb)"/>
<circle cx="1478.5" cy="1067.9" r="6.7" fill="url(#gb)"/>
<circle cx="1484.6" cy="1073.8" r="6.7" fill="url(#gb)"/>
<circle cx="1490.7" cy="1079.1" r="6.7" fill="url(#gb)"/>
<circle cx="1496.9" cy="1085.6" r="6.7" fill="url(#gb)"/>
<circle cx="1503.0" cy="1089.6" r="6.7" fill="url(#gb)"/>
<circle cx="1509.1" cy="1094.8" r="6.7" fill="url(#gb)"/>
<circle cx="1515.2" cy="1100.7" r="6.7" fill="url(#gb)"/>
<circle cx="1521.3" cy="1106.0" r="6.7" fill="url(#gb)"/>
<circle cx="1527.4" cy="1111.2" r="6.7" fill="url(#gb)"/>
<circle cx="1533.6" cy="1114.5" r="6.7" fill="url(#gb)"/>
<circle cx="1539.7" cy="1117.8" r="6.7" fill="url(#gb)"/>
<circle cx="1545.8" cy="1123.0" r="6.7" fill="url(#gb)"/>
<circle cx="1551.9" cy="1126.3" r="6.7" fill="url(#gb)"/>
<circle cx="1558.0" cy="1127.6" r="6.7" fill="url(#gb)"/>
<circle cx="1564.1" cy="1128.9" r="6.7" fill="url(#gb)"/>
<circle cx="1570.3" cy="1130.2" r="6.7" fill="url(#gb)"/>
<circle cx="1576.4" cy="1131.1" r="6.7" fill="url(#gb)"/>
<circle cx="1582.5" cy="1132.0" r="6.7" fill="url(#gb)"/>
<circle cx="1588.6" cy="1132.9" r="6.7" fill="url(#gb)"/>
<circle cx="1594.7" cy="1133.5" r="6.7" fill="url(#gb)"/>
<circle cx="1600.8" cy="1134.2" r="6.7" fill="url(#gb)"/>
<circle cx="1607.0" cy="1134.9" r="6.7" fill="url(#gb)"/>
<circle cx="1613.1" cy="1135.4" r="6.7" fill="url(#gb)"/>
<circle cx="1619.2" cy="1135.8" r="6.7" fill="url(#gb)"/>
<circle cx="1625.3" cy="1136.3" r="6.7" fill="url(#gb)"/>
<circle cx="1631.4" cy="1136.7" r="6.7" fill="url(#gb)"/>
<circle cx="1637.6" cy="1137.0" r="6.7" fill="url(#gb)"/>
<circle cx="1643.7" cy="1137.3" r="6.7" fill="url(#gb)"/>
<circle cx="1649.8" cy="1137.6" r="6.7" fill="url(#gb)"/>
<circle cx="1655.9" cy="1137.9" r="6.7" fill="url(#gb)"/>
<circle cx="1662.0" cy="1138.0" r="6.7" fill="url(#gb)"/>
<circle cx="1668.1" cy="1138.2" r="6.7" fill="url(#gb)"/>
<circle cx="1674.3" cy="1138.4" r="6.7" fill="url(#gb)"/>
<circle cx="1680.4" cy="1138.5" r="6.7" fill="url(#gb)"/>
<circle cx="1686.5" cy="1138.6" r="6.7" fill="url(#gb)"/>
<circle cx="1692.6" cy="1138.8" r="6.7" fill="url(#gb)"/>
<circle cx="1698.7" cy="1138.9" r="6.7" fill="url(#gb)"/>
<circle cx="1704.8" cy="1138.9" r="6.7" fill="url(#gb)"/>
<circle cx="1711.0" cy="1138.9" r="6.7" fill="url(#gb)"/>
<circle cx="1717.1" cy="1138.9" r="6.7" fill="url(#gb)"/>
<circle cx="1723.2" cy="1138.9" r="6.7" fill="url(#gb)"/>
<circle cx="1729.3" cy="1139.1" r="6.7" fill="url(#gb)"/>
<circle cx="1735.4" cy="1139.2" r="6.7" fill="url(#gb)"/>
<circle cx="1741.5" cy="1139.4" r="6.7" fill="url(#gb)"/>
</g>
<path d="M1345,735 L1462,1126.5" stroke="#111" stroke-width="2" fill="none" stroke-dasharray="12 12.5"/>
<rect x="1006" y="673.6" width="734" height="506.4" fill="none" stroke="#1e1e1e" stroke-width="2.4"/>
<path d="M1128.3,1180 V1171 M1250.7,1180 V1171 M1373.0,1180 V1171 M1495.4,1180 V1171 M1617.7,1180 V1171 M1067.2,1180 V1175.5 M1189.5,1180 V1175.5 M1311.8,1180 V1175.5 M1434.2,1180 V1175.5 M1556.5,1180 V1175.5 M1678.9,1180 V1175.5 " stroke="#1e1e1e" stroke-width="2.2" fill="none"/>
<text x="1006.0" y="1219" font-size="34" text-anchor="middle" font-family="'Liberation Serif', 'Times New Roman', serif" fill="#111" >10</text>
<text x="1128.3" y="1219" font-size="34" text-anchor="middle" font-family="'Liberation Serif', 'Times New Roman', serif" fill="#111" >8</text>
<text x="1250.7" y="1219" font-size="34" text-anchor="middle" font-family="'Liberation Serif', 'Times New Roman', serif" fill="#111" >6</text>
<text x="1373.0" y="1219" font-size="34" text-anchor="middle" font-family="'Liberation Serif', 'Times New Roman', serif" fill="#111" >4</text>
<text x="1495.4" y="1219" font-size="34" text-anchor="middle" font-family="'Liberation Serif', 'Times New Roman', serif" fill="#111" >2</text>
<text x="1617.7" y="1219" font-size="34" text-anchor="middle" font-family="'Liberation Serif', 'Times New Roman', serif" fill="#111" >0</text>
<text x="1740.0" y="1219" font-size="34" text-anchor="middle" font-family="'Liberation Serif', 'Times New Roman', serif" fill="#111" >-2</text>
<text x="1251.5" y="1272.4" font-size="35" text-anchor="start" font-family="'Liberation Serif', 'Times New Roman', serif" fill="#111" >Binding Energy (eV)</text>
<text x="1022" y="732" font-size="45" text-anchor="start" font-family="'Liberation Serif', 'Times New Roman', serif" fill="#111" >(d)</text>
<text x="1612" y="711" font-size="35.5" text-anchor="start" font-family="'Liberation Serif', 'Times New Roman', serif" fill="#111" >Bi<tspan font-size="23.4" dy="9.2">2</tspan><tspan dy="-9.2">WO</tspan><tspan font-size="23.4" dy="9.2">6</tspan></text>
<text x="1338.5" y="1158.3" font-size="35" text-anchor="start" font-family="'Liberation Serif', 'Times New Roman', serif" fill="#111" letter-spacing="-0.2">2.53 eV</text>
<text transform="translate(945.8,921.5) rotate(-90)" font-size="35" text-anchor="middle" font-family="'Liberation Serif', 'Times New Roman', serif" fill="#111">Intensity (a.u)</text>
</svg>
</body></html>
